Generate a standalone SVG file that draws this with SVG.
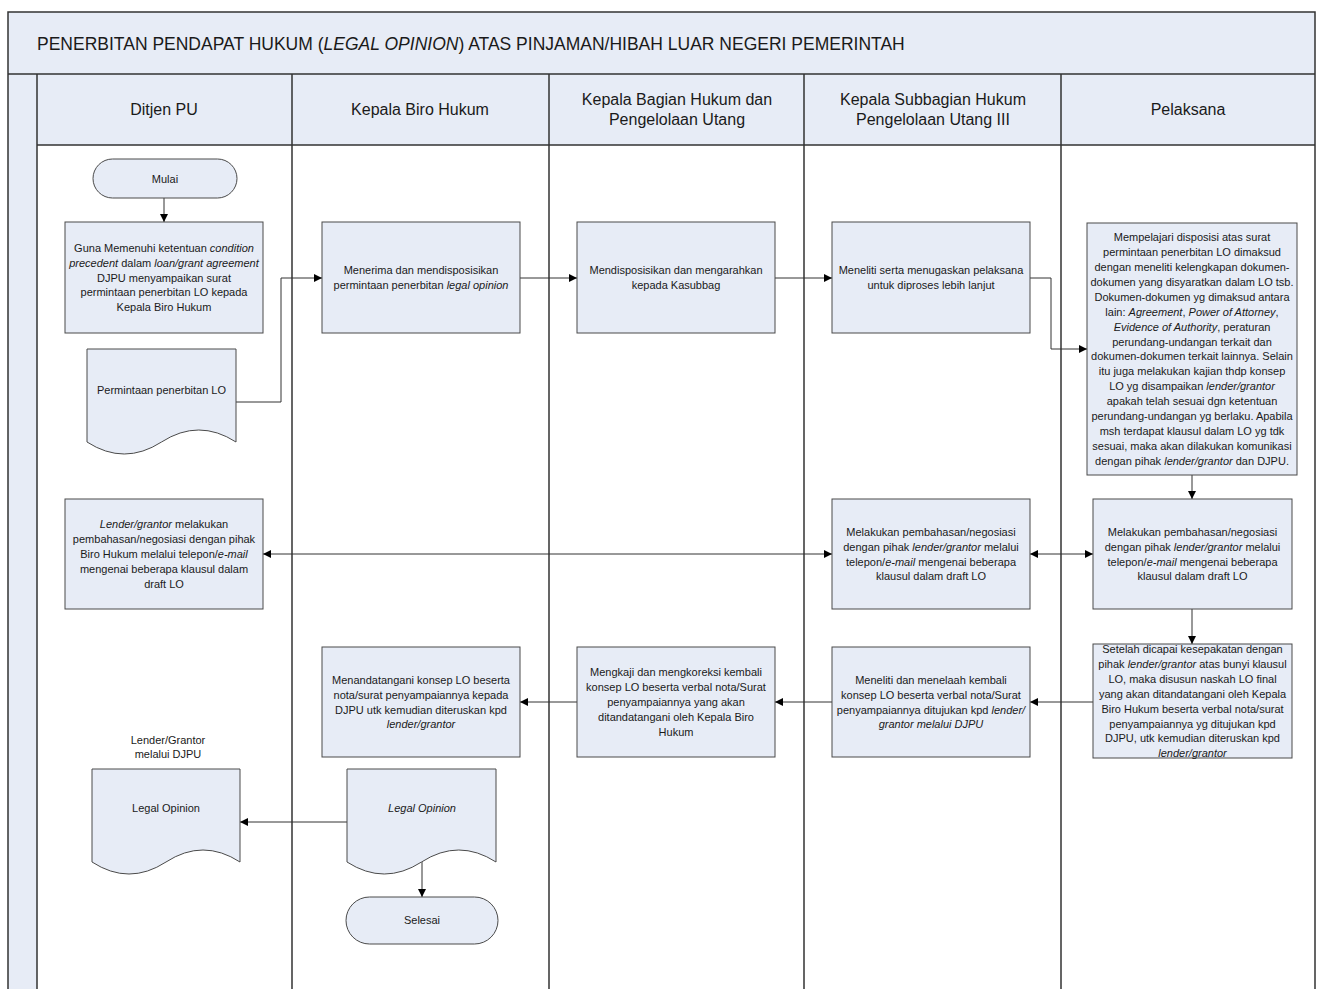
<svg xmlns="http://www.w3.org/2000/svg" width="1317" height="989" viewBox="0 0 1317 989">
<style>
.bg{fill:#ffffff}
.band{fill:#e7ecf6;stroke:none}
.lane{stroke:#333333;stroke-width:1.5;fill:none}
.box{fill:#e7ecf6;stroke:#4a4a4a;stroke-width:1}
.t{font-family:"Liberation Sans",Arial,sans-serif;font-size:11px;fill:#1a1a1a;text-anchor:middle}
.h{font-family:"Liberation Sans",Arial,sans-serif;font-size:16px;fill:#1a1a1a;text-anchor:middle}
.title{font-family:"Liberation Sans",Arial,sans-serif;font-size:17.5px;fill:#1a1a1a}
.i{font-style:italic}
.c{fill:none;stroke:#333333;stroke-width:1}
</style>
<defs>
<marker id="ah" viewBox="0 0 10 10" refX="10" refY="5" markerWidth="8" markerHeight="8" markerUnits="userSpaceOnUse" orient="auto-start-reverse">
<path d="M0,0 L10,5 L0,10 Z" fill="#000000"/>
</marker>
</defs>
<rect class="bg" x="0" y="0" width="1317" height="989"/>
<g id="frame">
<rect class="band" x="8" y="12" width="1307" height="62"/>
<rect class="band" x="8" y="74" width="29" height="915"/>
<rect class="band" x="37" y="74" width="1278" height="71"/>
<path class="lane" d="M8,995 V12 H1315 V995"/>
<path class="lane" d="M8,74 H1315 M37,145 H1315 M37,74 V995 M292,74 V995 M549,74 V995 M804,74 V995 M1061,74 V995"/>
<text class="title" x="37" y="50">PENERBITAN PENDAPAT HUKUM (<tspan class="i">LEGAL OPINION</tspan>) ATAS PINJAMAN/HIBAH LUAR NEGERI PEMERINTAH</text>
<text class="h" x="164" y="115">Ditjen PU</text>
<text class="h" x="420" y="115">Kepala Biro Hukum</text>
<text class="h" x="677" y="105">Kepala Bagian Hukum dan</text>
<text class="h" x="677" y="125">Pengelolaan Utang</text>
<text class="h" x="933" y="105">Kepala Subbagian Hukum</text>
<text class="h" x="933" y="125">Pengelolaan Utang III</text>
<text class="h" x="1188" y="115">Pelaksana</text>
</g>
<g id="connectors">
<path class="c" d="M164,197 V222" marker-end="url(#ah)"/>
<path class="c" d="M236,402 H281 V278 H322" marker-end="url(#ah)"/>
<path class="c" d="M520,278 H577" marker-end="url(#ah)"/>
<path class="c" d="M775,278 H832" marker-end="url(#ah)"/>
<path class="c" d="M1030,278 H1051 V349 H1087" marker-end="url(#ah)"/>
<path class="c" d="M1192,475 V499" marker-end="url(#ah)"/>
<path class="c" d="M263,554 H832" marker-start="url(#ah)" marker-end="url(#ah)"/>
<path class="c" d="M1030,554 H1093" marker-start="url(#ah)" marker-end="url(#ah)"/>
<path class="c" d="M1192,608 V644" marker-end="url(#ah)"/>
<path class="c" d="M1093,702 H1030" marker-end="url(#ah)"/>
<path class="c" d="M832,702 H775" marker-end="url(#ah)"/>
<path class="c" d="M577,702 H520" marker-end="url(#ah)"/>
<path class="c" d="M347,822 H240" marker-end="url(#ah)"/>
<path class="c" d="M422,862 V897" marker-end="url(#ah)"/>
</g>
<g id="mulai">
<rect class="box" x="93" y="159" width="144" height="39" rx="19.5"/>
<text class="t" x="165" y="183">Mulai</text>
</g>
<g id="n1">
<rect class="box" x="65" y="222" width="198" height="111"/>
<text class="t" x="164" y="252">Guna Memenuhi ketentuan <tspan class="i">condition</tspan></text>
<text class="t" x="164" y="267"><tspan class="i">precedent</tspan> dalam <tspan class="i">loan/grant agreement</tspan></text>
<text class="t" x="164" y="281.5">DJPU menyampaikan surat</text>
<text class="t" x="164" y="296">permintaan penerbitan LO kepada</text>
<text class="t" x="164" y="311">Kepala Biro Hukum</text>
</g>
<g id="doc1">
<path class="box" d="M87,349 H236 V442 Q198.75,418 161.5,442 Q124.25,466 87,442 Z"/>
<text class="t" x="161.5" y="394">Permintaan penerbitan LO</text>
</g>
<g id="n2">
<rect class="box" x="322" y="222" width="198" height="111"/>
<text class="t" x="421" y="274">Menerima dan mendisposisikan</text>
<text class="t" x="421" y="289">permintaan penerbitan <tspan class="i">legal opinion</tspan></text>
</g>
<g id="n3">
<rect class="box" x="577" y="222" width="198" height="111"/>
<text class="t" x="676" y="274">Mendisposisikan dan mengarahkan</text>
<text class="t" x="676" y="289">kepada Kasubbag</text>
</g>
<g id="n4">
<rect class="box" x="832" y="222" width="198" height="111"/>
<text class="t" x="931" y="274">Meneliti serta menugaskan pelaksana</text>
<text class="t" x="931" y="289">untuk diproses lebih lanjut</text>
</g>
<g id="n5">
<rect class="box" x="1087" y="223" width="210" height="252"/>
<text class="t" x="1192" y="241">Mempelajari disposisi atas surat</text>
<text class="t" x="1192" y="256">permintaan penerbitan LO dimaksud</text>
<text class="t" x="1192" y="271">dengan meneliti kelengkapan dokumen-</text>
<text class="t" x="1192" y="286">dokumen yang disyaratkan dalam LO tsb.</text>
<text class="t" x="1192" y="301">Dokumen-dokumen yg dimaksud antara</text>
<text class="t" x="1192" y="315.5">lain: <tspan class="i">Agreement</tspan>, <tspan class="i">Power of Attorney</tspan>,</text>
<text class="t" x="1192" y="330.5"><tspan class="i">Evidence of Authority</tspan>, peraturan</text>
<text class="t" x="1192" y="345.5">perundang-undangan terkait dan</text>
<text class="t" x="1192" y="360">dokumen-dokumen terkait lainnya. Selain</text>
<text class="t" x="1192" y="375">itu juga melakukan kajian thdp konsep</text>
<text class="t" x="1192" y="390">LO yg disampaikan <tspan class="i">lender/grantor</tspan></text>
<text class="t" x="1192" y="405">apakah telah sesuai dgn ketentuan</text>
<text class="t" x="1192" y="420">perundang-undangan yg berlaku. Apabila</text>
<text class="t" x="1192" y="434.5">msh terdapat klausul dalam LO yg tdk</text>
<text class="t" x="1192" y="449.5">sesuai, maka akan dilakukan komunikasi</text>
<text class="t" x="1192" y="464.5">dengan pihak <tspan class="i">lender/grantor</tspan> dan DJPU.</text>
</g>
<g id="n6">
<rect class="box" x="65" y="499" width="198" height="110"/>
<text class="t" x="164" y="528"><tspan class="i">Lender/grantor</tspan>  melakukan</text>
<text class="t" x="164" y="543">pembahasan/negosiasi dengan pihak</text>
<text class="t" x="164" y="558">Biro Hukum melalui telepon/<tspan class="i">e-mail</tspan></text>
<text class="t" x="164" y="573">mengenai beberapa klausul dalam</text>
<text class="t" x="164" y="588">draft LO</text>
</g>
<g id="n7">
<rect class="box" x="832" y="499" width="198" height="110"/>
<text class="t" x="931" y="536">Melakukan pembahasan/negosiasi</text>
<text class="t" x="931" y="551">dengan pihak <tspan class="i">lender/grantor</tspan>  melalui</text>
<text class="t" x="931" y="565.5">telepon/<tspan class="i">e-mail</tspan> mengenai beberapa</text>
<text class="t" x="931" y="580">klausul dalam draft LO</text>
</g>
<g id="n8">
<rect class="box" x="1093" y="499" width="199" height="110"/>
<text class="t" x="1192.5" y="536">Melakukan pembahasan/negosiasi</text>
<text class="t" x="1192.5" y="551">dengan pihak <tspan class="i">lender/grantor</tspan>  melalui</text>
<text class="t" x="1192.5" y="565.5">telepon/<tspan class="i">e-mail</tspan> mengenai beberapa</text>
<text class="t" x="1192.5" y="580">klausul dalam draft LO</text>
</g>
<g id="n9">
<rect class="box" x="1093" y="644" width="199" height="114"/>
<text class="t" x="1192.5" y="653">Setelah dicapai kesepakatan dengan</text>
<text class="t" x="1192.5" y="668">pihak <tspan class="i">lender/grantor</tspan> atas bunyi klausul</text>
<text class="t" x="1192.5" y="683">LO, maka disusun naskah LO final</text>
<text class="t" x="1192.5" y="697.5">yang akan ditandatangani oleh Kepala</text>
<text class="t" x="1192.5" y="712.5">Biro Hukum beserta verbal nota/surat</text>
<text class="t" x="1192.5" y="727.5">penyampaiannya yg ditujukan kpd</text>
<text class="t" x="1192.5" y="742">DJPU, utk kemudian diteruskan kpd</text>
<text class="t" x="1192.5" y="757"><tspan class="i">lender/grantor</tspan></text>
</g>
<g id="n10">
<rect class="box" x="832" y="647" width="198" height="110"/>
<text class="t" x="931" y="684">Meneliti  dan menelaah kembali</text>
<text class="t" x="931" y="699">konsep LO beserta verbal nota/Surat</text>
<text class="t" x="931" y="713.5">penyampaiannya ditujukan kpd <tspan class="i">lender/</tspan></text>
<text class="t" x="931" y="728"><tspan class="i">grantor melalui DJPU</tspan></text>
</g>
<g id="n11">
<rect class="box" x="577" y="647" width="198" height="110"/>
<text class="t" x="676" y="676">Mengkaji dan mengkoreksi kembali</text>
<text class="t" x="676" y="691">konsep LO beserta verbal nota/Surat</text>
<text class="t" x="676" y="706">penyampaiannya yang akan</text>
<text class="t" x="676" y="721">ditandatangani oleh Kepala Biro</text>
<text class="t" x="676" y="736">Hukum</text>
</g>
<g id="n12">
<rect class="box" x="322" y="647" width="198" height="110"/>
<text class="t" x="421" y="684">Menandatangani konsep LO beserta</text>
<text class="t" x="421" y="699">nota/surat penyampaiannya kepada</text>
<text class="t" x="421" y="713.5">DJPU utk kemudian diteruskan kpd</text>
<text class="t" x="421" y="728"><tspan class="i">lender/grantor</tspan></text>
</g>
<g id="lbl">
<text class="t" x="168" y="744">Lender/Grantor</text>
<text class="t" x="168" y="758">melalui DJPU</text>
</g>
<g id="docLO1">
<path class="box" d="M92,769 H240 V862 Q203,838 166,862 Q129,886 92,862 Z"/>
<text class="t" x="166" y="812">Legal Opinion</text>
</g>
<g id="docLO2">
<path class="box" d="M347,769 H496 V862 Q458.75,838 421.5,862 Q384.25,886 347,862 Z"/>
<text class="t i" x="422" y="812">Legal Opinion</text>
</g>
<g id="selesai">
<rect class="box" x="346" y="897" width="152" height="47" rx="23.5"/>
<text class="t" x="422" y="924">Selesai</text>
</g>
</svg>
